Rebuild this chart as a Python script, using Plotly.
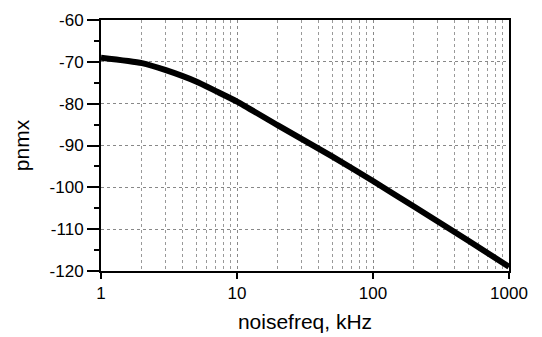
import plotly.graph_objects as go

# Data
noisefreq_khz = [1, 2, 3, 5, 7, 10, 20, 50, 100, 200, 500, 1000]
pnmx = [-69.0, -70.3, -72.0, -74.7, -77.0, -79.5, -85.2, -92.6, -98.5, -104.6, -112.7, -119.0]

x_major_ticks = [1, 10, 100, 1000]
x_minor_ticks = [m * d for d in (1, 10, 100) for m in range(2, 10)]
y_ticks = [-120, -110, -100, -90, -80, -70, -60]
y_tick_labels = ["-120", "-110", "-100", "-90", "-80", "-70", "-60"]

fig = go.Figure()
fig.add_trace(go.Scatter(
    x=noisefreq_khz, y=pnmx, mode="lines",
    line=dict(color="black", width=6, shape="spline", smoothing=0.6),
    showlegend=False, hoverinfo="skip",
))

font_family = "Liberation Sans, Arial, sans-serif"

# page body has an 8px default margin, so the figure is sized to fit the window
fig.update_layout(
    width=534, height=329,
    margin=dict(l=93, r=33, t=12, b=66, autoexpand=False),
    paper_bgcolor="white", plot_bgcolor="white",
    font=dict(family=font_family, color="black"),
    xaxis=dict(
        type="log", range=[0, 3],
        tickmode="array", tickvals=x_major_ticks,
        ticktext=[str(v) for v in x_major_ticks],
        ticks="outside", ticklen=6, tickwidth=1.5, tickcolor="black",
        tickfont=dict(size=17),
        showline=True, linecolor="black", linewidth=2, mirror=True,
        showgrid=True, gridcolor="#888888", griddash="dot", gridwidth=1,
        minor=dict(tickmode="array", tickvals=x_minor_ticks, showgrid=True,
                   gridcolor="#999999", griddash="dot", gridwidth=1, ticks=""),
        zeroline=False, automargin=False,
        title=dict(text="noisefreq, kHz", font=dict(size=21), standoff=12),
    ),
    yaxis=dict(
        range=[-120, -60],
        tickmode="array", tickvals=y_ticks, ticktext=y_tick_labels,
        ticks="outside", ticklen=12, tickwidth=1.5, tickcolor="black",
        tickfont=dict(size=17),
        showline=True, linecolor="black", linewidth=2, mirror=True,
        showgrid=True, gridcolor="#888888", griddash="dot", gridwidth=1,
        minor=dict(dtick=5, tick0=-120, ticks="outside", ticklen=5,
                   tickwidth=1.5, tickcolor="black", showgrid=False),
        zeroline=False, automargin=False,
        title=dict(text="pnmx", font=dict(size=21), standoff=14),
    ),
)

fig.write_html("out.html")
